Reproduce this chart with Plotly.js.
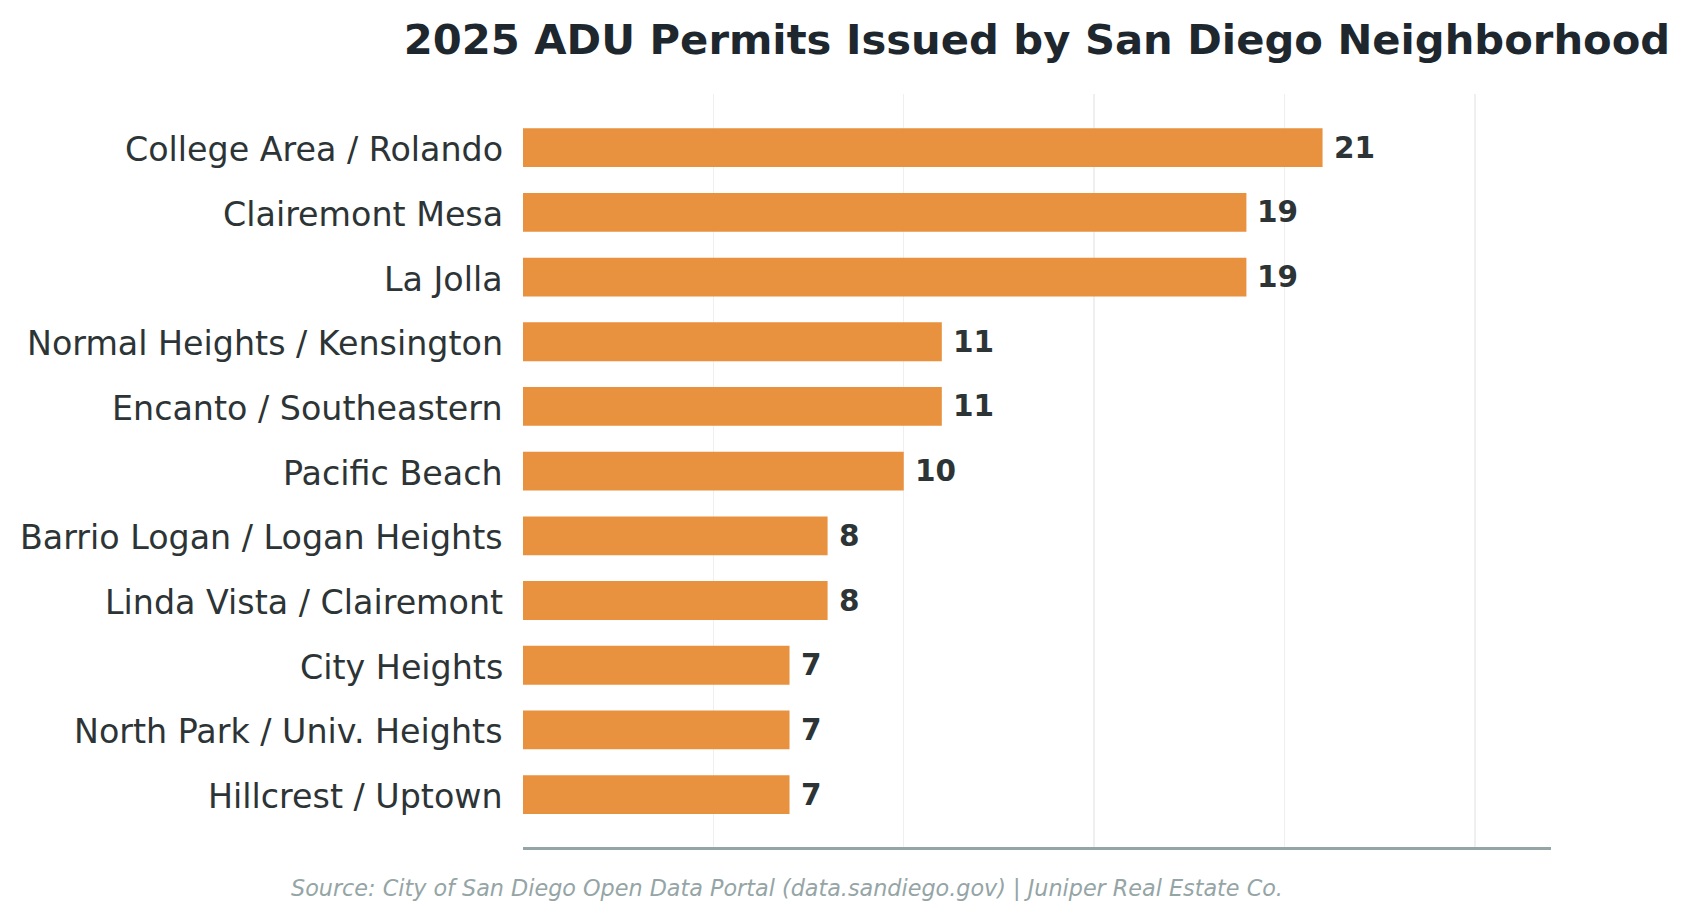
<!DOCTYPE html>
<html>
<head>
<meta charset="utf-8">
<script src="https://cdn.plot.ly/plotly-3.0.1.min.js"></script>
<style>html,body{margin:0;padding:0;background:#fff;}#chart{width:1688px;height:919px;}</style>
</head>
<body>
<div id="chart"></div>
<script>
const neighborhoods = [
  "College Area / Rolando",
  "Clairemont Mesa",
  "La Jolla",
  "Normal Heights / Kensington",
  "Encanto / Southeastern",
  "Pacific Beach",
  "Barrio Logan / Logan Heights",
  "Linda Vista / Clairemont",
  "City Heights",
  "North Park / Univ. Heights",
  "Hillcrest / Uptown"
];
const permits = [21, 19, 19, 11, 11, 10, 8, 8, 7, 7, 7];
const gridTicks = [0, 5, 10, 15, 20, 25];
const titleText = "2025 ADU Permits Issued by San Diego Neighborhood";
const sourceText = "Source: City of San Diego Open Data Portal (data.sandiego.gov) | Juniper Real Estate Co.";

const plotTop = 94, plotBottom = 847;

const trace = {
  type: "bar",
  orientation: "h",
  x: permits,
  y: neighborhoods,
  width: 0.6,
  marker: {color: "#E8913F", line: {width: 0}},
  hoverinfo: "x+y"
};

const notes = permits.map((v, i) => ({
  x: v, y: neighborhoods[i], xref: "x", yref: "y",
  text: "<b>" + v + "</b>", showarrow: false,
  xanchor: "left", yanchor: "middle", xshift: 9,
  font: {family: "DejaVu Sans", size: 29.5, color: "#2d3436"}
}));

neighborhoods.forEach(name => notes.push({
  x: 0, y: name, xref: "paper", yref: "y",
  text: name, showarrow: false,
  xanchor: "right", yanchor: "middle", xshift: -18, yshift: -2,
  font: {family: "DejaVu Sans", size: 33.3, color: "#2d3436"}
}));

notes.push({
  x: 0.257, y: (plotBottom - 888) / (plotBottom - plotTop), xref: "paper", yref: "paper",
  text: "<i>" + sourceText + "</i>", showarrow: false,
  xanchor: "center", yanchor: "middle",
  font: {family: "DejaVu Sans", size: 22.3, color: "#95a5a6"}
});

const layout = {
  width: 1688, height: 919,
  margin: {l: 523, r: 137, t: plotTop, b: 919 - plotBottom, pad: 0},
  paper_bgcolor: "#ffffff",
  plot_bgcolor: "#ffffff",
  showlegend: false,
  title: {
    text: "<b>" + titleText + "</b>",
    font: {family: "DejaVu Sans", size: 41.7, color: "#1e272e"},
    xref: "paper", x: 0.5, xanchor: "center",
    yref: "container", y: 1 - 39 / 919, yanchor: "middle"
  },
  xaxis: {
    range: [0, 27],
    tickvals: gridTicks,
    showticklabels: false,
    ticks: "",
    showgrid: true,
    gridcolor: "#efefef",
    gridwidth: 1.5,
    zeroline: false,
    showline: true,
    linecolor: "#95a5a6",
    linewidth: 2.5,
    fixedrange: true
  },
  yaxis: {
    type: "category",
    categoryorder: "array",
    categoryarray: neighborhoods,
    range: [10.81, -0.83],
    ticks: "",
    showticklabels: false,
    showgrid: false,
    zeroline: false,
    showline: false,
    fixedrange: true
  },
  annotations: notes
};

Plotly.newPlot("chart", [trace], layout, {displayModeBar: false, staticPlot: true});
</script>
</body>
</html>
